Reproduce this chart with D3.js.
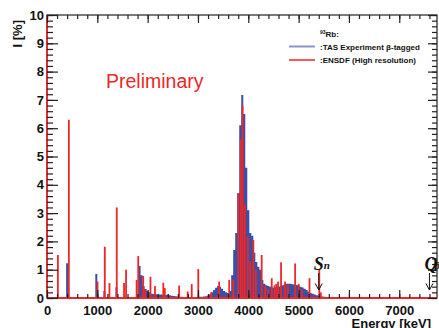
<!DOCTYPE html>
<html>
<head>
<meta charset="utf-8">
<script src="https://cdn.jsdelivr.net/npm/d3@7"></script>
<style>
  html, body { margin: 0; padding: 0; background: #fff; }
  svg { display: block; }
</style>
</head>
<body>
<svg id="chart" width="439" height="328"></svg>
<script>
// ---- Data ----
// TAS experiment (beta-tagged): histogram bins, lower edge in keV, width 40 keV
const tasBinWidth = 40;
const tasEnergy = [380, 960, 1120, 1360,
  1820, 1860, 1900, 1940, 1980, 2020, 2060, 2100, 2140, 2180, 2220, 2260, 2300, 2340, 2380, 2420,
  2460, 2500, 2540, 2580, 2620, 2660, 2700, 2740, 2780, 2820, 2860, 2900, 2940, 2980, 3020, 3060,
  3100, 3140, 3180, 3220, 3260, 3300, 3340, 3380, 3420, 3460, 3500, 3540, 3580, 3620, 3660, 3700,
  3740, 3780, 3820, 3860, 3900, 3940, 3980, 4020, 4060, 4100, 4140, 4180, 4220, 4260, 4300, 4340,
  4380, 4420, 4460, 4500, 4540, 4580, 4620, 4660, 4700, 4740, 4780, 4820, 4860, 4900, 4940, 4980,
  5020, 5060, 5100, 5140, 5180, 5220, 5260, 5300, 5340, 5380, 5420, 5460, 5500, 5540, 5580];
const tasIntensity = [1.23, 0.85, 0.25, 0.38,
  1.13, 0.8, 0.42, 0.32, 0.25, 0.2, 0.15, 0.14, 0.13, 0.12, 0.12, 0.12, 0.11, 0.11, 0.12, 0.1,
  0.08, 0.07, 0.06, 0.05, 0.04, 0.04, 0.03, 0.03, 0.03, 0.03, 0.03, 0.03, 0.03, 0.03, 0.04, 0.04,
  0.05, 0.06, 0.08, 0.12, 0.2, 0.28, 0.36, 0.42, 0.4, 0.33, 0.25, 0.2, 0.18, 0.25, 0.8, 1.7,
  2.3, 3.7, 6.1, 7.17, 6.5, 4.6, 3.1, 2.3, 2.2, 1.6, 1.27, 1.1, 1.0, 0.64, 0.5, 0.45,
  0.42, 0.4, 0.37, 0.36, 0.37, 0.39, 0.42, 0.45, 0.48, 0.5, 0.5, 0.5, 0.49, 0.48, 0.46, 0.44,
  0.4, 0.37, 0.33, 0.28, 0.22, 0.18, 0.15, 0.12, 0.1, 0.08, 0.06, 0.05, 0.04, 0.03, 0.02];

// ENSDF (high resolution) levels: energy keV, intensity %
const ensdfEnergy = [215, 433, 1003, 1147, 1240, 1385, 1530, 1570, 1780, 1812, 1910, 1950, 2055, 2145,
  2310, 2340, 2625, 2795, 2875, 3005, 3210, 3260, 3420, 3620, 3700, 3800, 3850, 3885, 3930, 3990,
  4040, 4100, 4150, 4265, 4335, 4390, 4465, 4520, 4555, 4590, 4650, 4730, 4785, 4930, 5000, 5065,
  5215, 5410, 5440];
const ensdfIntensity = [1.52, 6.3, 0.58, 1.81, 0.53, 3.2, 0.53, 1.0, 0.64, 1.48, 0.78, 0.3, 0.75, 0.42,
  0.54, 0.35, 0.44, 0.23, 0.49, 1.02, 0.12, 0.2, 0.58, 0.64, 0.65, 3.7, 5.6, 6.8, 3.3, 2.17,
  1.3, 2.05, 1.0, 1.52, 0.42, 0.3, 0.7, 0.45, 0.5, 0.58, 1.26, 0.58, 0.45, 1.22, 0.5, 0.3,
  0.7, 1.0, 0.2];

const xTicks = [0, 1000, 2000, 3000, 4000, 5000, 6000, 7000];
const yTicks = [0, 1, 2, 3, 4, 5, 6, 7, 8, 9, 10];
const markerLabels = ["S", "n", "Q", "β"];
const markerEnergy = [5400, 7600];

// ---- Layout ----
const svg = d3.select("#chart");
const L = 47, R = 437, T = 15, B = 298;
const xMax = 7750;
const x = d3.scaleLinear().domain([0, xMax]).range([L, R]);
const y = d3.scaleLinear().domain([0, 10]).range([B, T]);
const BLUE = "#3b50a4", RED = "#ee2626";
const FONT = "'Liberation Sans', Arial, Helvetica, sans-serif";

// TAS histogram as one step outline (gaps between bins drop to zero)
const pts = [];
tasEnergy.forEach((e, i) => {
  const v = tasIntensity[i], end = e + tasBinWidth;
  if (i === 0 || tasEnergy[i - 1] + tasBinWidth !== e) pts.push([e, 0]);
  pts.push([e, v], [end, v]);
  if (i === tasEnergy.length - 1 || tasEnergy[i + 1] !== end) pts.push([end, 0]);
});
svg.append("path")
  .datum(pts)
  .attr("d", d3.line().x(d => x(d[0])).y(d => y(d[1])))
  .attr("fill", BLUE).attr("stroke", "none");

// ENSDF lines
svg.append("g").selectAll("rect").data(ensdfEnergy.map((e, i) => [e, ensdfIntensity[i]]))
  .join("rect")
  .attr("x", d => x(d[0]) - 0.85)
  .attr("width", 1.8)
  .attr("y", d => y(d[1]))
  .attr("height", d => y(0) - y(d[1]))
  .attr("fill", RED);

// Frame
svg.append("rect").attr("x", L).attr("y", T).attr("width", R - L).attr("height", B - T)
  .attr("fill", "none").attr("stroke", "#222").attr("stroke-width", 1.2);
// red histogram baseline/left edge
svg.append("line").attr("x1", L).attr("x2", R).attr("y1", B).attr("y2", B)
  .attr("stroke", RED).attr("stroke-width", 1.8);
svg.append("line").attr("x1", L).attr("x2", L).attr("y1", T).attr("y2", B)
  .attr("stroke", RED).attr("stroke-width", 1.8);

function styleAxis(g) {
  g.select(".domain").remove();
  g.selectAll(".tick line").attr("stroke", "#222").attr("stroke-width", 1.2);
}
const minorX = d3.range(0, xMax + 1, 200);
const minorY = d3.range(0, 10.001, 0.2);

// Bottom ticks (inside)
svg.append("g").attr("transform", `translate(0,${B})`)
  .call(d3.axisTop(x).tickValues(minorX).tickSize(4).tickFormat("")).call(styleAxis);
svg.append("g").attr("transform", `translate(0,${B})`)
  .call(d3.axisTop(x).tickValues(xTicks).tickSize(8).tickFormat("")).call(styleAxis);
// Top ticks
svg.append("g").attr("transform", `translate(0,${T})`)
  .call(d3.axisBottom(x).tickValues(minorX).tickSize(4).tickFormat("")).call(styleAxis);
svg.append("g").attr("transform", `translate(0,${T})`)
  .call(d3.axisBottom(x).tickValues(xTicks).tickSize(8).tickFormat("")).call(styleAxis);
// Left ticks
svg.append("g").attr("transform", `translate(${L},0)`)
  .call(d3.axisRight(y).tickValues(minorY).tickSize(6).tickFormat("")).call(styleAxis);
svg.append("g").attr("transform", `translate(${L},0)`)
  .call(d3.axisRight(y).tickValues(yTicks).tickSize(11).tickFormat("")).call(styleAxis);
// Right ticks
svg.append("g").attr("transform", `translate(${R},0)`)
  .call(d3.axisLeft(y).tickValues(minorY).tickSize(5).tickFormat("")).call(styleAxis);
svg.append("g").attr("transform", `translate(${R},0)`)
  .call(d3.axisLeft(y).tickValues(yTicks).tickSize(9).tickFormat("")).call(styleAxis);

// Tick labels
const xl = svg.append("g").attr("transform", `translate(0,${B})`)
  .call(d3.axisBottom(x).tickValues(xTicks).tickSize(0).tickPadding(8).tickFormat(d3.format("d")));
xl.select(".domain").remove();
xl.selectAll("text").attr("font-family", FONT).attr("font-weight", "bold").attr("font-size", 13).attr("fill", "#111");
const yl = svg.append("g").attr("transform", `translate(${L},0)`)
  .call(d3.axisLeft(y).tickValues(yTicks).tickSize(0).tickPadding(3).tickFormat(d3.format("d")));
yl.select(".domain").remove();
yl.selectAll("text").attr("font-family", FONT).attr("font-weight", "bold").attr("font-size", 13).attr("fill", "#111");

// Axis titles
svg.append("text").attr("transform", "translate(22,20) rotate(-90)")
  .attr("text-anchor", "end").attr("font-family", FONT).attr("font-weight", "bold")
  .attr("font-size", 13).attr("fill", "#111").text("I [%]");
svg.append("text").attr("x", 431).attr("y", 328).attr("text-anchor", "end")
  .attr("font-family", FONT).attr("font-weight", "bold").attr("font-size", 13).attr("fill", "#111")
  .text("Energy [keV]");

// Preliminary
svg.append("text").attr("x", 106).attr("y", 88).attr("font-family", FONT)
  .attr("font-size", 19.5).attr("fill", RED).text("Preliminary");

// Legend
const lg = svg.append("g").attr("font-family", FONT).attr("font-weight", "bold").attr("font-size", 8).attr("fill", "#111");
const hdr = lg.append("text").attr("x", 320).attr("y", 37);
hdr.append("tspan").attr("font-size", 5).attr("dy", -3).text("93");
hdr.append("tspan").attr("dy", 3).text("Rb:");
lg.append("line").attr("x1", 289).attr("x2", 315).attr("y1", 46.5).attr("y2", 46.5)
  .attr("stroke", "#8d95cf").attr("stroke-width", 2);
lg.append("text").attr("x", 320).attr("y", 49.5).text(":TAS Experiment β-tagged");
lg.append("line").attr("x1", 289).attr("x2", 315).attr("y1", 60).attr("y2", 60)
  .attr("stroke", RED).attr("stroke-width", 1.5);
lg.append("text").attr("x", 320).attr("y", 63).text(":ENSDF (High resolution)");

// Sn and Q markers
const SERIF = "'Liberation Serif', 'Times New Roman', serif";
function marker(e, main, sub) {
  const px = x(e);
  svg.append("text").attr("x", px - 5).attr("y", 270).attr("font-family", SERIF)
    .attr("font-style", "italic").attr("font-weight", "bold").attr("font-size", 18).attr("fill", "#111").text(main);
  svg.append("text").attr("x", px + 5).attr("y", 269).attr("font-family", SERIF)
    .attr("font-style", "italic").attr("font-weight", "bold").attr("font-size", 11).attr("fill", "#111").text(sub);
  svg.append("path")
    .attr("d", `M${px},273 L${px},290 M${px - 3.5},283.5 L${px},290 L${px + 3.5},283.5`)
    .attr("fill", "none").attr("stroke", "#111").attr("stroke-width", 1);
}
marker(markerEnergy[0], markerLabels[0], markerLabels[1]);
marker(markerEnergy[1], markerLabels[2], markerLabels[3]);
</script>
</body>
</html>
